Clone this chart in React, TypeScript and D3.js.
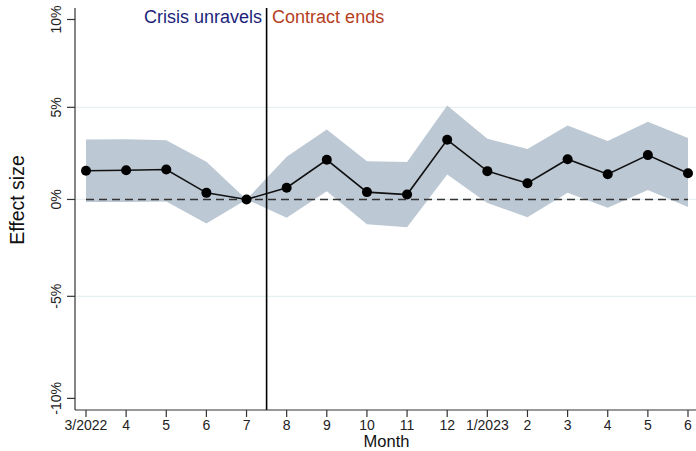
import React from "react";
import * as d3 from "d3";

const months = ["3/2022", "4", "5", "6", "7", "8", "9", "10", "11", "12", "1/2023", "2", "3", "4", "5", "6"];
// coefficients in log points
const estimate = [0.0152, 0.0155, 0.0159, 0.0035, 0, 0.0062, 0.021, 0.0039, 0.0026, 0.0316, 0.015, 0.0086, 0.0213, 0.0134, 0.0235, 0.0139];
const upper = [0.0318, 0.0319, 0.0314, 0.02, 0, 0.0226, 0.0371, 0.0203, 0.0198, 0.0498, 0.0322, 0.0267, 0.0392, 0.031, 0.0411, 0.0326];
const lower = [-0.0014, -0.0013, -0.0011, -0.0127, 0, -0.0097, 0.0044, -0.0131, -0.0147, 0.0132, -0.0019, -0.0094, 0.0035, -0.0044, 0.005, -0.004];
const yTickPct = [10, 5, 0, -5, -10];
const gridPct = [5, 0, -5];
const eventIndex = 4.5;
const leftLabel = "Crisis unravels";
const rightLabel = "Contract ends";

const W = 696;
const H = 451;
const axisX = 75;
const axisY = 410;
const top = 8;

export default function App() {
  const x = d3.scaleLinear().domain([0, months.length - 1]).range([86, 688]);
  const y = d3.scaleLinear().domain([-0.1115, 0.1014]).range([axisY, top]);
  const tickY = (p: number) => y(Math.log(1 + p / 100));

  const idx = months.map((_, i) => i);
  const area = d3
    .area<number>()
    .x((i) => x(i))
    .y0((i) => y(lower[i]))
    .y1((i) => y(upper[i]));
  const line = d3
    .line<number>()
    .x((i) => x(i))
    .y((i) => y(estimate[i]));

  const font = "'Liberation Sans', Arial, Helvetica, sans-serif";
  const ex = x(eventIndex);

  return (
    <svg
      width={W}
      height={H}
      style={{ position: "absolute", left: 0, top: 0, background: "#fff" }}
      fontFamily={font}
    >
      {gridPct.map((p) => (
        <line key={"g" + p} x1={axisX} x2={W} y1={tickY(p)} y2={tickY(p)} stroke="#e6eff1" strokeWidth={1.2} />
      ))}
      <path d={area(idx) || ""} fill="#bcc8d4" />
      <line x1={x(0)} x2={x(months.length - 1)} y1={y(0)} y2={y(0)} stroke="#333" strokeWidth={1.6} strokeDasharray="8,5" />
      <line x1={ex} x2={ex} y1={top} y2={axisY} stroke="#000" strokeWidth={1.6} />
      <path d={line(idx) || ""} fill="none" stroke="#111" strokeWidth={1.6} />
      {idx.map((i) => (
        <circle key={"c" + i} cx={x(i)} cy={y(estimate[i])} r={5} fill="#000" />
      ))}
      {/* axes */}
      <line x1={axisX} x2={axisX} y1={top} y2={axisY} stroke="#333" strokeWidth={1.2} />
      <line x1={axisX} x2={W} y1={axisY} y2={axisY} stroke="#333" strokeWidth={1.2} />
      {yTickPct.map((p) => (
        <g key={"t" + p}>
          <line x1={axisX - 8} x2={axisX} y1={tickY(p)} y2={tickY(p)} stroke="#333" strokeWidth={1.2} />
          <text
            transform={`translate(61,${tickY(p)}) rotate(-90)`}
            textAnchor="middle"
            fontSize={14}
            fill="#222"
          >
            {p + "%"}
          </text>
        </g>
      ))}
      {months.map((m, i) => (
        <g key={"x" + i}>
          <line x1={x(i)} x2={x(i)} y1={axisY} y2={axisY + 7} stroke="#333" strokeWidth={1.2} />
          <text x={x(i)} y={429.5} textAnchor="middle" fontSize={14} fill="#222">
            {m}
          </text>
        </g>
      ))}
      <text x={(axisX + W) / 2 + 1} y={446.5} textAnchor="middle" fontSize={16.5} fill="#111">
        Month
      </text>
      <text transform={`translate(24,200) rotate(-90)`} textAnchor="middle" fontSize={19.5} fill="#111">
        Effect size
      </text>
      <text x={ex - 4.5} y={23} textAnchor="end" fontSize={18} fill="#1c1f7a">
        {leftLabel}
      </text>
      <text x={ex + 5.5} y={23} textAnchor="start" fontSize={18} fill="#b5401f">
        {rightLabel}
      </text>
    </svg>
  );
}
